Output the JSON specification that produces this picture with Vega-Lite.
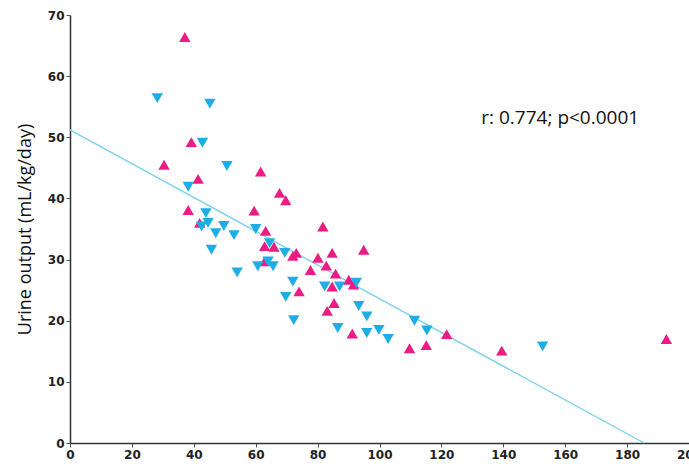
{
  "$schema": "https://vega.github.io/schema/vega-lite/v6.json",
  "width": 619,
  "height": 428,
  "autosize": {"type": "none"},
  "padding": {"left": 70, "top": 15, "right": 0, "bottom": 23},
  "background": "white",
  "config": {"view": {"stroke": null}},
  "datasets": {
    "pts": [
      {"x": 37.1, "y": 66.4, "g": "A"},
      {"x": 39.2, "y": 49.2, "g": "A"},
      {"x": 30.4, "y": 45.5, "g": "A"},
      {"x": 41.4, "y": 43.2, "g": "A"},
      {"x": 38.2, "y": 38.1, "g": "A"},
      {"x": 41.9, "y": 36.0, "g": "A"},
      {"x": 61.6, "y": 44.4, "g": "A"},
      {"x": 67.7, "y": 40.9, "g": "A"},
      {"x": 69.7, "y": 39.7, "g": "A"},
      {"x": 59.5, "y": 38.0, "g": "A"},
      {"x": 63.2, "y": 34.7, "g": "A"},
      {"x": 62.9, "y": 32.2, "g": "A"},
      {"x": 65.9, "y": 32.1, "g": "A"},
      {"x": 73.1, "y": 31.1, "g": "A"},
      {"x": 72.0, "y": 30.6, "g": "A"},
      {"x": 62.9, "y": 29.7, "g": "A"},
      {"x": 81.7, "y": 35.4, "g": "A"},
      {"x": 80.1, "y": 30.3, "g": "A"},
      {"x": 84.7, "y": 31.1, "g": "A"},
      {"x": 82.8, "y": 29.0, "g": "A"},
      {"x": 77.7, "y": 28.3, "g": "A"},
      {"x": 85.8, "y": 27.7, "g": "A"},
      {"x": 90.1, "y": 26.7, "g": "A"},
      {"x": 91.6, "y": 25.9, "g": "A"},
      {"x": 84.7, "y": 25.6, "g": "A"},
      {"x": 94.9, "y": 31.6, "g": "A"},
      {"x": 74.0, "y": 24.8, "g": "A"},
      {"x": 85.3, "y": 22.9, "g": "A"},
      {"x": 83.1, "y": 21.6, "g": "A"},
      {"x": 91.2, "y": 17.9, "g": "A"},
      {"x": 109.7, "y": 15.5, "g": "A"},
      {"x": 115.1, "y": 16.0, "g": "A"},
      {"x": 121.7, "y": 17.8, "g": "A"},
      {"x": 139.5, "y": 15.1, "g": "A"},
      {"x": 192.7, "y": 17.0, "g": "A"},
      {"x": 28.2, "y": 56.4, "g": "B"},
      {"x": 45.2, "y": 55.5, "g": "B"},
      {"x": 42.8, "y": 49.1, "g": "B"},
      {"x": 50.7, "y": 45.3, "g": "B"},
      {"x": 38.2, "y": 41.9, "g": "B"},
      {"x": 43.9, "y": 37.6, "g": "B"},
      {"x": 44.6, "y": 36.0, "g": "B"},
      {"x": 42.5, "y": 35.4, "g": "B"},
      {"x": 49.7, "y": 35.5, "g": "B"},
      {"x": 47.1, "y": 34.3, "g": "B"},
      {"x": 53.0, "y": 34.0, "g": "B"},
      {"x": 45.7, "y": 31.6, "g": "B"},
      {"x": 60.0, "y": 35.0, "g": "B"},
      {"x": 64.5, "y": 32.7, "g": "B"},
      {"x": 69.4, "y": 31.1, "g": "B"},
      {"x": 54.0, "y": 27.9, "g": "B"},
      {"x": 60.7, "y": 28.9, "g": "B"},
      {"x": 64.0, "y": 29.7, "g": "B"},
      {"x": 65.6, "y": 28.9, "g": "B"},
      {"x": 72.0, "y": 26.4, "g": "B"},
      {"x": 69.7, "y": 23.9, "g": "B"},
      {"x": 72.3, "y": 20.1, "g": "B"},
      {"x": 82.3, "y": 25.6, "g": "B"},
      {"x": 87.1, "y": 25.6, "g": "B"},
      {"x": 92.5, "y": 26.2, "g": "B"},
      {"x": 86.5, "y": 18.8, "g": "B"},
      {"x": 93.3, "y": 22.4, "g": "B"},
      {"x": 95.9, "y": 20.7, "g": "B"},
      {"x": 95.9, "y": 18.0, "g": "B"},
      {"x": 99.8, "y": 18.5, "g": "B"},
      {"x": 102.8, "y": 17.0, "g": "B"},
      {"x": 111.3, "y": 20.0, "g": "B"},
      {"x": 115.3, "y": 18.4, "g": "B"},
      {"x": 152.7, "y": 15.8, "g": "B"}
    ],
    "fit": [
      {"x": 0, "y": 51.2},
      {"x": 185.5, "y": 0}
    ],
    "note": [
      {"x": 158.4, "y": 53.2, "label": "r: 0.774; p<0.0001"}
    ]
  },
  "layer": [
    {
      "data": {"name": "fit"},
      "mark": {"type": "line", "color": "#7fd0f0", "strokeWidth": 1.4},
      "encoding": {
        "x": {
          "field": "x", "type": "quantitative",
          "scale": {"domain": [0, 200], "nice": false, "zero": false},
          "axis": {
            "values": [0,10,20,30,40,50,60,70,80,90,100,110,120,130,140,150,160,170,180,190,200],
            "labelExpr": "datum.value % 20 == 0 ? datum.label : ''",
            "title": null,
            "grid": false,
            "domainColor": "#333333",
            "domainWidth": 1.5,
            "tickColor": "#555555",
            "tickSize": {"condition": {"test": "datum.value % 20 == 0", "value": 4}, "value": 3},
            "labelFont": "DejaVu Sans",
            "labelFontWeight": "bold",
            "labelFontSize": 12,
            "labelColor": "#222222",
            "labelPadding": 2,
            "labelOverlap": false,
            "labelFlush": false
          }
        },
        "y": {
          "field": "y", "type": "quantitative",
          "scale": {"domain": [0, 70], "nice": false},
          "axis": {
            "values": [0,5,10,15,20,25,30,35,40,45,50,55,60,65,70],
            "labelExpr": "datum.value % 10 == 0 ? datum.label : ''",
            "title": "Urine output (mL/kg/day)",
            "titleFont": "Open Sans",
            "titleFontWeight": "normal",
            "titleFontSize": 18,
            "titleColor": "#111111",
            "titlePadding": 13,
            "grid": false,
            "domainColor": "#333333",
            "domainWidth": 1.5,
            "tickColor": "#555555",
            "tickSize": {"condition": {"test": "datum.value % 10 == 0", "value": 4}, "value": 3},
            "labelFont": "DejaVu Sans",
            "labelFontWeight": "bold",
            "labelFontSize": 12,
            "labelColor": "#222222",
            "labelPadding": 2,
            "labelOverlap": false,
            "labelFlush": false
          }
        }
      }
    },
    {
      "data": {"name": "pts"},
      "mark": {"type": "point", "filled": true, "opacity": 1, "size": 130, "strokeWidth": 0},
      "encoding": {
        "x": {"field": "x", "type": "quantitative"},
        "y": {"field": "y", "type": "quantitative"},
        "color": {"field": "g", "type": "nominal", "scale": {"domain": ["A", "B"], "range": ["#ec1c84", "#1eaee6"]}, "legend": null},
        "shape": {"field": "g", "type": "nominal", "scale": {"domain": ["A", "B"], "range": ["triangle-up", "triangle-down"]}, "legend": null}
      }
    },
    {
      "data": {"name": "note"},
      "mark": {"type": "text", "font": "Open Sans", "fontSize": 19, "color": "#111111", "align": "center", "baseline": "middle"},
      "encoding": {
        "x": {"field": "x", "type": "quantitative"},
        "y": {"field": "y", "type": "quantitative"},
        "text": {"field": "label"}
      }
    }
  ]
}
